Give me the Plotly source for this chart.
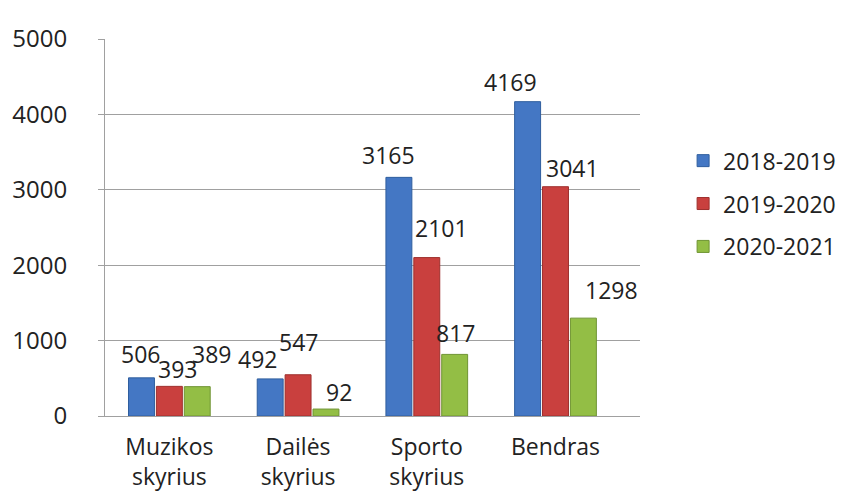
import plotly.graph_objects as go

categories = ["Muzikos<br>skyrius", "Dailės<br>skyrius", "Sporto<br>skyrius", "Bendras"]
series_names = ["2018-2019", "2019-2020", "2020-2021"]
v_2018 = [506, 492, 3165, 4169]
v_2019 = [393, 547, 2101, 3041]
v_2020 = [389, 92, 817, 1298]
y_ticks = [0, 1000, 2000, 3000, 4000, 5000]

colors = ["#4477C4", "#C9403E", "#93BE45"]
line_colors = ["#2F5E9E", "#9E2F2D", "#6F9433"]
# label styling: pixel offset of each value label (dx, dy above bar top), as Excel placed them
bar_pitch = 29
label_offsets = [
    [(0, 24), (-12, 20), (-9, 22), (-16, 20)],
    [(8, 17), (0, 33), (15, 30), (17, 19)],
    [(13, 33), (12, 17), (0, 21), (27, 28)],
]

fig = go.Figure()
all_series = [v_2018, v_2019, v_2020]
for i, (name, vals, c, lc) in enumerate(zip(series_names, all_series, colors, line_colors)):
    fig.add_trace(go.Bar(
        x=categories, y=vals, name=name, legendgroup=name,
        marker=dict(color=c, line=dict(color=lc, width=1)),
        cliponaxis=False,
    ))
    for j, (cat, v) in enumerate(zip(categories, vals)):
        dx, dy = label_offsets[i][j]
        fig.add_annotation(
            x=cat, y=v, xref="x", yref="y", text=str(v), showarrow=False,
            xanchor="center", yanchor="middle",
            xshift=(i - 1) * bar_pitch + dx, yshift=dy,
            font=dict(size=23, color="#222222"),
        )

fig.update_layout(
    width=846, height=495,
    paper_bgcolor="white", plot_bgcolor="white",
    margin=dict(l=97, r=214, t=31, b=87, autoexpand=False),
    barmode="group", bargap=0.35, bargroupgap=0.07,
    font=dict(family="Open Sans, Liberation Sans, sans-serif", color="#333333", size=22),
    showlegend=True,
    legend=dict(xref="container", yref="container", x=0.798, y=0.735,
                xanchor="left", yanchor="top",
                font=dict(size=23, color="#222222"),
                traceorder="grouped", tracegroupgap=10,
                itemwidth=30, bgcolor="rgba(0,0,0,0)"),
)
fig.update_yaxes(range=[0, 5000], tickvals=y_ticks, ticktext=[str(t) for t in y_ticks],
                 showgrid=True, gridcolor="#A0A0A0", gridwidth=1,
                 showline=True, linecolor="#A0A0A0", linewidth=1,
                 ticks="outside", ticklen=6, tickcolor="#A0A0A0",
                 tickfont=dict(size=24, color="#222222"), ticklabelstandoff=26,
                 zeroline=False, automargin=False)
fig.update_xaxes(showline=True, linecolor="#A0A0A0", linewidth=1,
                 ticks="", tickfont=dict(size=23, color="#222222"),
                 ticklabelstandoff=10,
                 showgrid=False, automargin=False)

fig.write_html("out.html")
